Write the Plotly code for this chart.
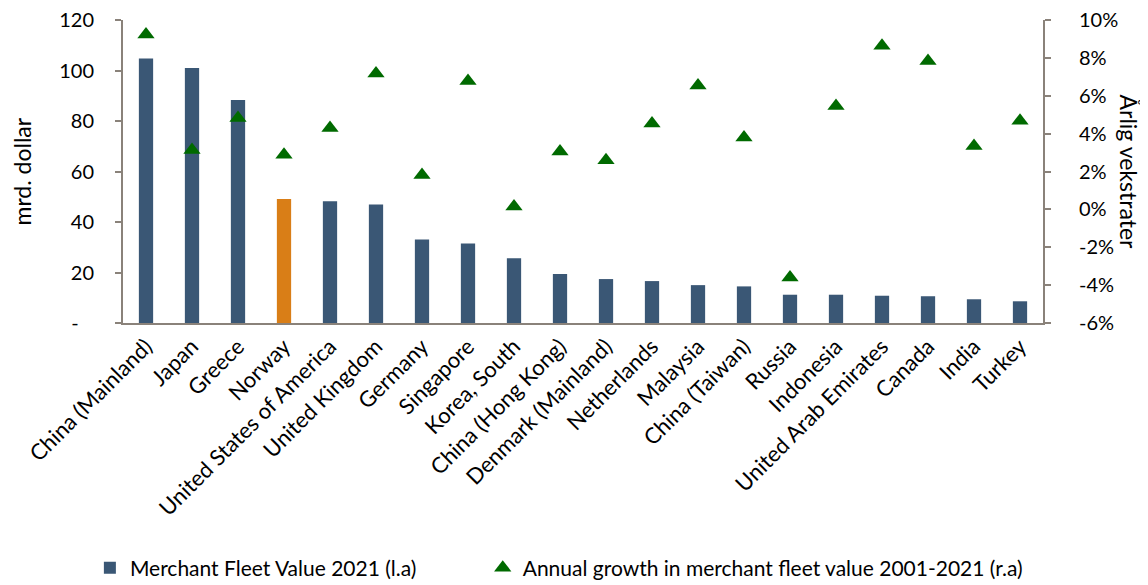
import plotly.graph_objects as go

countries = ["China (Mainland)", "Japan", "Greece", "Norway", "United States of America",
             "United Kingdom", "Germany", "Singapore", "Korea, South", "China (Hong Kong)",
             "Denmark (Mainland)", "Netherlands", "Malaysia", "China (Taiwan)", "Russia",
             "Indonesia", "United Arab Emirates", "Canada", "India", "Turkey"]
fleet_value = [104.8, 101.0, 88.3, 49.1, 48.2, 46.9, 33.1, 31.5, 25.6, 19.4,
               17.4, 16.6, 15.0, 14.5, 11.2, 11.2, 10.8, 10.6, 9.4, 8.6]
growth_pct = [9.23, 3.14, 4.83, 2.89, 4.30, 7.18, 1.81, 6.78, 0.15, 3.05,
              2.60, 4.53, 6.54, 3.80, -3.60, 5.46, 8.64, 7.84, 3.35, 4.68]
left_ticks = [0, 20, 40, 60, 80, 100, 120]
left_ticktext = ["-\u00a0\u00a0\u00a0", "20", "40", "60", "80", "100", "120"]
right_ticks = [-6, -4, -2, 0, 2, 4, 6, 8, 10]
right_ticktext = ["-6%", "-4%", "-2%", "0%", "2%", "4%", "6%", "8%", "10%"]

NAVY = "#3A5775"
ORANGE = "#D97E17"
GREEN = "#006A00"
AXIS = "#8A827A"
FONT = "Lato"

bar_colors = [ORANGE if c == "Norway" else NAVY for c in countries]

fig = go.Figure()
fig.add_trace(go.Bar(
    x=countries, y=fleet_value, name="Merchant Fleet Value 2021 (l.a)",
    marker=dict(color=bar_colors, line=dict(width=0)), width=0.31, yaxis="y",
    legend="legend",
))
fig.add_trace(go.Scatter(
    x=countries, y=growth_pct, name="Annual growth in merchant fleet value 2001-2021 (r.a)",
    mode="markers", marker=dict(symbol="triangle-up", size=15, color=GREEN), yaxis="y2",
    legend="legend2",
))

legend_common = dict(orientation="h", y=-0.8086, yanchor="middle", xanchor="left",
                     font=dict(size=21, color="#000000"), bgcolor="rgba(0,0,0,0)")

# the page body adds an 8px offset, so the figure is 8px smaller and margins compensate
fig.update_layout(
    width=1140, height=577,
    margin=dict(l=115, r=105, t=12, b=262, autoexpand=False),
    paper_bgcolor="white", plot_bgcolor="white",
    font=dict(family=FONT, size=20, color="#000000"),
    showlegend=True,
    legend=dict(x=-0.036, **legend_common),
    legend2=dict(x=0.391, **legend_common),
    xaxis=dict(range=[-0.5, len(countries) - 0.5], showline=True, linecolor=AXIS, linewidth=2,
               ticks="", tickangle=-45, showgrid=False, tickfont=dict(size=22),
               automargin=False, ticklabeloverflow="allow"),
    yaxis=dict(range=[0, 120], tickvals=left_ticks, ticktext=left_ticktext,
               showline=True, linecolor=AXIS, linewidth=2, ticks="outside", ticklen=6,
               tickcolor=AXIS, tickwidth=2, showgrid=False, zeroline=False,
               ticklabelstandoff=17, tickfont=dict(size=20), automargin=False,
               ticklabeloverflow="allow"),
    yaxis2=dict(range=[-6, 10], tickvals=right_ticks, ticktext=right_ticktext,
                overlaying="y", side="right",
                showline=True, linecolor=AXIS, linewidth=2, ticks="outside", ticklen=6,
                tickcolor=AXIS, tickwidth=2, showgrid=False, zeroline=False,
                ticklabelstandoff=24, tickfont=dict(size=20), automargin=False,
                ticklabeloverflow="allow"),
    annotations=[
        dict(text="mrd. dollar", x=0, xref="paper", xshift=-102, xanchor="center",
             y=0.5, yref="paper", showarrow=False, textangle=-90, font=dict(size=23)),
        dict(text="Årlig vekstrater", x=1.0, xref="paper", xshift=86, xanchor="center",
             y=0.5, yref="paper", showarrow=False, textangle=90, font=dict(size=23)),
    ],
)

fig.write_html("out.html")
